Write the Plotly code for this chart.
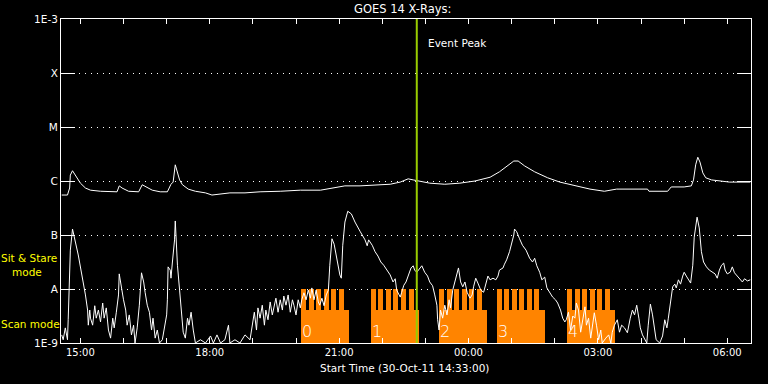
import pandas as pd
import plotly.graph_objects as go

# ---------------- data ----------------
start_time = "2011-10-30 14:33"
end_time = "2011-10-31 06:33"
event_peak_time = "2011-10-30 22:48"

# GOES long channel (1-8 A): minutes after start, log10 flux
long_min = [1, 9, 12, 13, 16, 20, 24, 27, 34, 41, 55, 69, 78, 81, 85, 94, 108, 113, 119, 127,
            138, 148, 153, 156, 159, 162, 165, 169, 177, 187, 201, 210, 222, 235, 256, 277, 305,
            333, 361, 381, 395, 416, 437, 458, 472, 483, 490, 499, 513, 534, 555, 576, 597, 610,
            622, 630, 636, 645, 659, 677, 694, 715, 736, 756, 773, 816, 818, 844, 849, 867, 877,
            880, 883, 886, 889, 893, 897, 905, 916, 930, 959]
long_log = [-6.26, -6.26, -6.13, -5.89, -5.81, -5.89, -5.98, -6.04, -6.13, -6.17, -6.19, -6.20,
            -6.20, -6.09, -6.13, -6.19, -6.20, -6.07, -6.11, -6.17, -6.20, -6.20, -6.06, -6.02,
            -5.70, -5.83, -5.98, -6.07, -6.15, -6.19, -6.22, -6.26, -6.24, -6.22, -6.22, -6.20,
            -6.19, -6.17, -6.17, -6.13, -6.09, -6.09, -6.07, -6.06, -6.02, -5.96, -5.98, -6.00,
            -6.04, -6.06, -6.04, -6.00, -5.93, -5.83, -5.72, -5.63, -5.63, -5.72, -5.83, -5.94,
            -6.02, -6.09, -6.15, -6.19, -6.15, -6.15, -6.19, -6.19, -6.11, -6.11, -6.09, -5.98,
            -5.70, -5.56, -5.65, -5.85, -5.94, -5.98, -6.00, -6.02, -6.02]

# GOES short channel (0.5-4 A): minutes after start, log10 flux
short_min = [1, 3, 6, 9, 10, 12, 13, 16, 17, 20, 24, 28, 31, 34, 37, 38, 40, 41, 44, 47, 49, 52,
             55, 58, 60, 63, 66, 69, 72, 74, 77, 80, 81, 84, 87, 90, 92, 95, 98, 101, 103, 106,
             109, 112, 115, 117, 120, 123, 126, 128, 131, 134, 137, 141, 144, 147, 148, 149, 152,
             153, 155, 158, 159, 160, 162, 165, 167, 170, 173, 176, 178, 181, 184, 187, 194, 201,
             208, 212, 217, 222, 228, 233, 235, 242, 249, 256, 263, 266, 269, 272, 274, 277, 280,
             283, 285, 288, 291, 294, 297, 299, 302, 305, 308, 310, 313, 316, 319, 322, 324, 327,
             330, 333, 335, 338, 341, 344, 347, 349, 352, 355, 358, 360, 363, 366, 369, 372, 374,
             377, 380, 383, 385, 388, 390, 392, 395, 399, 404, 409, 416, 423, 426, 428, 433, 437,
             441, 445, 449, 453, 458, 462, 465, 467, 472, 474, 477, 480, 484, 487, 490, 492, 495,
             499, 502, 506, 510, 513, 517, 520, 523, 524, 526, 528, 531, 534, 537, 540, 542, 545,
             548, 551, 553, 556, 559, 562, 565, 569, 572, 574, 577, 580, 584, 588, 591, 594, 597,
             601, 605, 608, 610, 615, 617, 620, 624, 627, 630, 631, 634, 638, 642, 647, 652, 656,
             659, 662, 666, 669, 673, 676, 680, 684, 688, 691, 695, 698, 701, 703, 706, 709, 712,
             715, 717, 720, 723, 726, 729, 731, 734, 737, 740, 742, 745, 748, 751, 753, 758, 762,
             765, 767, 770, 774, 777, 780, 784, 788, 792, 795, 798, 801, 804, 806, 809, 812, 815,
             817, 820, 823, 826, 828, 833, 837, 840, 843, 845, 848, 851, 854, 856, 859, 862, 865,
             867, 870, 873, 876, 879, 881, 884, 885, 888, 891, 894, 898, 902, 906, 910, 913, 916,
             919, 922, 924, 927, 931, 934, 937, 941, 944, 948, 951, 955, 959]
short_log = [-8.85, -8.94, -8.72, -8.94, -8.57, -7.83, -7.28, -6.89, -6.94, -7.13, -7.37, -7.65,
             -7.93, -8.11, -8.39, -8.67, -8.39, -8.54, -8.67, -8.31, -8.54, -8.39, -8.61, -8.26,
             -8.54, -8.35, -8.76, -8.91, -8.54, -8.72, -8.43, -8.11, -7.72, -7.98, -8.20, -8.39,
             -8.67, -8.48, -8.85, -8.67, -9.00, -8.72, -8.30, -7.70, -7.87, -8.06, -8.30, -8.43,
             -8.76, -8.54, -8.91, -8.76, -9.00, -8.94, -8.72, -8.48, -8.20, -7.59, -7.65, -7.80,
             -7.50, -7.09, -6.74, -7.09, -7.56, -8.02, -8.39, -8.80, -8.91, -8.54, -8.67, -8.43,
             -8.76, -9.00, -8.94, -9.00, -8.87, -9.00, -8.85, -9.00, -8.94, -8.67, -9.00, -8.94,
             -9.00, -8.85, -8.94, -8.67, -8.43, -8.76, -8.35, -8.54, -8.30, -8.67, -8.39, -8.57,
             -8.24, -8.48, -8.30, -8.17, -8.43, -8.20, -8.39, -8.13, -8.30, -8.11, -8.43, -8.20,
             -8.30, -8.48, -8.20, -8.35, -8.20, -8.07, -8.20, -8.02, -8.17, -7.98, -8.20, -8.02,
             -8.24, -8.30, -8.17, -8.31, -8.11, -8.02, -7.56, -7.07, -7.17, -7.37, -7.56, -7.74,
             -7.80, -7.19, -6.76, -6.56, -6.61, -6.76, -6.93, -7.09, -7.20, -7.09, -7.19, -7.31,
             -7.39, -7.50, -7.56, -7.65, -7.74, -7.87, -7.81, -8.02, -8.15, -8.06, -7.93, -7.87,
             -7.72, -7.61, -7.57, -7.65, -7.69, -7.61, -7.57, -7.69, -7.76, -7.87, -7.94, -8.11,
             -8.30, -8.57, -8.76, -8.39, -8.54, -8.30, -8.48, -8.20, -8.35, -8.02, -7.87, -7.74,
             -7.61, -7.87, -7.96, -7.87, -8.06, -8.17, -8.11, -7.96, -7.80, -7.89, -8.02, -8.06,
             -7.89, -7.76, -7.83, -7.80, -7.83, -7.76, -7.65, -7.61, -7.54, -7.46, -7.31, -7.17,
             -7.00, -6.89, -6.94, -7.07, -7.19, -7.28, -7.43, -7.50, -7.43, -7.57, -7.69, -7.83,
             -7.78, -7.98, -8.06, -8.15, -8.20, -8.26, -8.39, -8.54, -8.61, -8.57, -8.43, -8.76,
             -8.50, -8.54, -8.26, -8.39, -8.80, -8.54, -8.33, -8.67, -8.54, -8.91, -8.61, -8.44,
             -8.67, -8.94, -8.76, -9.00, -8.91, -8.85, -9.00, -8.80, -8.67, -8.57, -8.80, -8.67,
             -8.72, -8.81, -8.54, -8.39, -8.48, -8.30, -8.54, -8.72, -8.85, -8.94, -9.00, -8.67,
             -8.28, -8.48, -8.76, -8.94, -9.00, -8.87, -8.57, -8.72, -8.54, -8.20, -7.96, -7.91,
             -7.98, -7.83, -7.91, -7.76, -7.69, -7.76, -7.83, -7.89, -7.56, -7.04, -6.76, -6.67,
             -6.87, -7.31, -7.50, -7.59, -7.65, -7.69, -7.72, -7.80, -7.65, -7.56, -7.52, -7.65,
             -7.72, -7.69, -7.59, -7.70, -7.76, -7.81, -7.87, -7.81, -7.85, -7.83]

# Observing-mode timeline (scan blocks)
block_start_min = [334, 431, 526, 606, 704]
block_labels = ["0", "1", "2", "3", "4"]
block_len_min = 67
tooth_offsets_min = [0, 10.5, 21, 31.5, 42, 52.5]
tooth_len_min = 7
floor_level = 1e-9
scan_level = 4.1e-9
stare_level = 1e-8

# y axis ticks
ytick_vals = [1e-9, 1e-8, 1e-7, 1e-6, 1e-5, 1e-4, 1e-3]
ytick_text = ["1E-9", "A", "B", "C", "M", "X", "1E-3"]

# ---------------- build ----------------
t0 = pd.Timestamp(start_time)
def to_time(mins):
    return [t0 + pd.Timedelta(minutes=m) for m in mins]

long_t = to_time(long_min)
short_t = to_time(short_min)
long_flux = [10 ** v for v in long_log]
short_flux = [10 ** v for v in short_log]

ORANGE = "#FF8400"
GREEN = "#99CC00"
FONT = "DejaVu Sans"

fig = go.Figure()

# lower (scan mode) rectangles
fig.add_trace(go.Bar(
    x=[t0 + pd.Timedelta(minutes=s + block_len_min / 2) for s in block_start_min],
    y=[scan_level - floor_level] * len(block_start_min),
    base=floor_level,
    width=[block_len_min * 60000] * len(block_start_min),
    marker=dict(color=ORANGE, line=dict(width=0)),
    showlegend=False, hoverinfo="skip"))

# upper (sit & stare) teeth
tooth_x = []
for s in block_start_min:
    for off in tooth_offsets_min:
        tooth_x.append(t0 + pd.Timedelta(minutes=s + off + tooth_len_min / 2))
fig.add_trace(go.Bar(
    x=tooth_x,
    y=[stare_level - floor_level] * len(tooth_x),
    base=floor_level,
    width=[tooth_len_min * 60000] * len(tooth_x),
    marker=dict(color=ORANGE, line=dict(width=0)),
    showlegend=False, hoverinfo="skip"))

fig.add_trace(go.Scatter(x=long_t, y=long_flux, mode="lines",
                         line=dict(color="white", width=1), showlegend=False, hoverinfo="skip"))
fig.add_trace(go.Scatter(x=short_t, y=short_flux, mode="lines",
                         line=dict(color="white", width=1), showlegend=False, hoverinfo="skip"))

fig.add_shape(type="line", xref="x", yref="paper", x0=event_peak_time, x1=event_peak_time,
              y0=0, y1=1, line=dict(color=GREEN, width=2), layer="above")

W, H = 768, 384
L, R, T, B = 61, 17, 19, 41
pw, ph = W - L - R, H - T - B

def px_x(px):
    return (px - L) / pw

def px_y(py):
    return (H - B - py) / ph

ann = []
ann.append(dict(text="GOES 14 X-Rays:", xref="paper", yref="paper", x=px_x(402), y=px_y(9.5),
                xanchor="center", yanchor="middle", showarrow=False,
                font=dict(family=FONT, size=11.5, color="white")))
ann.append(dict(text="Start Time (30-Oct-11 14:33:00)", xref="paper", yref="paper",
                x=px_x(404.5), y=px_y(368), xanchor="center", yanchor="middle", showarrow=False,
                font=dict(family=FONT, size=10.5, color="white")))
ann.append(dict(text="Event Peak", xref="x", yref="paper", x=event_peak_time, xshift=9,
                y=px_y(42.5), xanchor="left", yanchor="middle", showarrow=False,
                font=dict(family=FONT, size=10.5, color="white")))
ann.append(dict(text="Sit & Stare", xref="paper", yref="paper", x=px_x(0), y=px_y(258),
                xanchor="left", yanchor="middle", showarrow=False, borderpad=0,
                font=dict(family=FONT, size=10.5, color="#FFFF00")))
ann.append(dict(text="mode", xref="paper", yref="paper", x=px_x(11), y=px_y(271.5),
                xanchor="left", yanchor="middle", showarrow=False, borderpad=0,
                font=dict(family=FONT, size=10.5, color="#FFFF00")))
ann.append(dict(text="Scan mode", xref="paper", yref="paper", x=px_x(0), y=px_y(324),
                xanchor="left", yanchor="middle", showarrow=False, borderpad=0,
                font=dict(family=FONT, size=10.5, color="#FFFF00")))
for s, lab in zip(block_start_min, block_labels):
    ann.append(dict(text=lab, xref="x", yref="paper", x=t0 + pd.Timedelta(minutes=s),
                    y=px_y(331.5), xanchor="left", yanchor="middle", showarrow=False, xshift=-1,
                    font=dict(family=FONT, size=16, color="white", weight=200)))

fig.update_layout(
    width=W, height=H,
    margin=dict(l=L, r=R, t=T, b=B, pad=0),
    paper_bgcolor="black", plot_bgcolor="black",
    barmode="overlay", bargap=0,
    annotations=ann,
    showlegend=False,
    xaxis=dict(
        type="date", range=[start_time, end_time],
        tick0="2011-10-30 15:00", dtick=3 * 3600000, tickformat="%H:%M",
        ticks="inside", ticklen=5, tickcolor="white", tickwidth=1,
        minor=dict(tick0="2011-10-30 15:00", dtick=3600000, ticks="inside", ticklen=5,
                   tickcolor="white", tickwidth=1, showgrid=False),
        showline=True, linecolor="white", linewidth=1, mirror="ticks",
        showgrid=False, zeroline=False,
        tickfont=dict(family=FONT, size=10, color="white"),
    ),
    yaxis=dict(
        type="log", range=[-9, -3],
        tickvals=ytick_vals, ticktext=ytick_text,
        ticks="inside", ticklen=14, tickcolor="white", tickwidth=1,
        showline=True, linecolor="white", linewidth=1, mirror="ticks",
        showgrid=True, gridcolor="white", gridwidth=1, griddash="1px,5px",
        zeroline=False,
        tickfont=dict(family=FONT, size=10.5, color="white"),
    ),
)

fig.write_html("out.html")
